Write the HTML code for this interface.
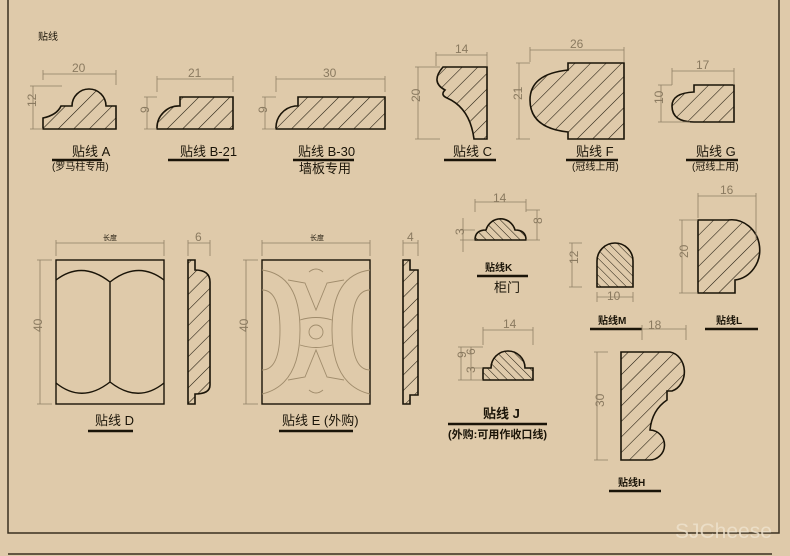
<!DOCTYPE html>
<html><head><meta charset="utf-8"><style>
html,body{margin:0;padding:0;background:#dfcaaa;}
svg{display:block}
text{font-family:"Liberation Sans","Noto Sans CJK SC",sans-serif;}
.lb{font-size:13px;fill:#1a1408;}
.sm{font-size:10px;fill:#1a1408;}
.dm{font-size:12px;fill:#8a7a60;}
.o{fill:url(#h);stroke:#1a1408;stroke-width:1.6;}
.o2{fill:url(#h2);stroke:#1a1408;stroke-width:1.6;}
.d{stroke:#8f7f66;stroke-width:0.8;fill:none;}
.ul{stroke:#1a1408;stroke-width:2.5;}
</style></head><body>
<svg width="790" height="556" viewBox="0 0 790 556">
<defs>
<pattern id="h" patternUnits="userSpaceOnUse" width="11" height="11" patternTransform="rotate(45)"><rect width="11" height="11" fill="#dfcaaa"/><line x1="0" y1="0" x2="0" y2="11" stroke="#1a1408" stroke-width="1.1"/></pattern>
<pattern id="h2" patternUnits="userSpaceOnUse" width="6" height="6" patternTransform="rotate(-45)"><rect width="6" height="6" fill="#dfcaaa"/><line x1="0" y1="0" x2="0" y2="6" stroke="#1a1408" stroke-width="1"/></pattern>
</defs>
<rect width="790" height="556" fill="#dfcaaa"/>
<path d="M8,0 V533 H779 V0" fill="none" stroke="#3a3020" stroke-width="1.5"/>
<line x1="8" y1="554" x2="772" y2="554" stroke="#3a3020" stroke-width="1.5"/>
<text x="38" y="40" class="sm">贴线</text>

<!-- A -->
<path class="o" d="M43,129 L43,118 Q57,115 61,106 L72,106 A17,17 0 0 1 106,106 L116,106 L116,129 Z"/>
<path class="d" d="M43,74 H116 M43,70 V80 M116,70 V85 M33,86 V129 M30,86 H62 M30,129 H43"/>
<text x="72" y="72" class="dm">20</text><text x="31" y="112" class="dm" transform="rotate(-90 31 107)">12</text>
<text x="72" y="156" class="lb">贴线 A</text><line class="ul" x1="52" y1="160" x2="102" y2="160"/>
<text x="52" y="170" class="sm">(罗马柱专用)</text>
<!-- B-21 -->
<path class="o" d="M157,129 A22,22 0 0 1 180,106 L180,97 L233,97 L233,129 Z"/>
<path class="d" d="M157,79 H233 M157,76 V92 M233,76 V92 M147,97 V129 M144,97 H157 M144,129 H157"/>
<text x="188" y="77" class="dm">21</text><text x="145" y="117" class="dm" transform="rotate(-90 145 113)">9</text>
<text x="180" y="156" class="lb">贴线 B-21</text><line class="ul" x1="168" y1="160" x2="229" y2="160"/>
<!-- B-30 -->
<path class="o" d="M276,129 A22,22 0 0 1 295,106 L298,106 L298,97 L385,97 L385,129 Z"/>
<path class="d" d="M276,79 H385 M276,76 V92 M385,76 V92 M265,97 V129 M262,97 H276 M262,129 H276"/>
<text x="323" y="77" class="dm">30</text><text x="263" y="117" class="dm" transform="rotate(-90 263 113)">9</text>
<text x="298" y="156" class="lb">贴线 B-30</text><line class="ul" x1="293" y1="160" x2="354" y2="160"/>
<text x="299" y="173" class="lb">墙板专用</text>
<!-- C -->
<path class="o" d="M443,67 L487,67 L487,139 L474,139 Q470,108 447,98 Q440,95 445,90 Q430,82 443,67 Z"/>
<path class="d" d="M436,55 H487 M436,52 V66 M487,52 V66 M418,67 V139 M415,67 H440 M415,139 H440"/>
<text x="455" y="53" class="dm">14</text><text x="416" y="106" class="dm" transform="rotate(-90 416 102)">20</text>
<text x="453" y="156" class="lb">贴线 C</text><line class="ul" x1="444" y1="160" x2="496" y2="160"/>
<!-- F -->
<path class="o" d="M568,63 L624,63 L624,139 L568,139 L568,132 Q530,128 530,100 Q530,74 568,70 Z"/>
<path class="d" d="M530,50 H624 M530,47 V62 M624,47 V62 M519,63 V139 M516,63 H530 M516,139 H530"/>
<text x="570" y="48" class="dm">26</text><text x="518" y="104" class="dm" transform="rotate(-90 518 100)">21</text>
<text x="576" y="156" class="lb">贴线 F</text><line class="ul" x1="566" y1="160" x2="618" y2="160"/>
<text x="572" y="170" class="sm">(冠线上用)</text>
<!-- G -->
<path class="o" d="M694,85 L734,85 L734,122 L694,122 Q672,122 672,106 Q672,93 694,92 Z"/>
<path class="d" d="M672,71 H734 M672,68 V85 M734,68 V85 M661,85 V122 M658,85 H672 M658,122 H690"/>
<text x="696" y="69" class="dm">17</text><text x="659" y="108" class="dm" transform="rotate(-90 659 104)">10</text>
<text x="696" y="156" class="lb">贴线 G</text><line class="ul" x1="686" y1="160" x2="738" y2="160"/>
<text x="692" y="170" class="sm">(冠线上用)</text>

<!-- D -->
<rect x="56" y="260" width="108" height="144" fill="none" stroke="#1a1408" stroke-width="1.4"/>
<path d="M56,280 Q82,260 110,282 Q138,260 164,280 M56,383 Q82,404 110,382 Q138,404 164,383 M110,282 V382" fill="none" stroke="#1a1408" stroke-width="1.4"/>
<path class="d" d="M56,243 H164 M56,240 V256 M164,240 V256 M40,260 V404 M37,260 H52 M37,404 H52"/>
<text x="103" y="240" class="sm" style="font-size:7px">长度</text><text x="38" y="336" class="dm" transform="rotate(-90 38 332)">40</text>
<path class="o" d="M188,260 L195,260 L195,270 Q210,270 210,282 L210,385 Q210,394 195,394 L195,404 L188,404 Z"/>
<path class="d" d="M188,243 H210 M188,240 V256 M210,240 V256"/>
<text x="195" y="241" class="dm">6</text>
<text x="95" y="425" class="lb">贴线 D</text><line class="ul" x1="88" y1="431" x2="133" y2="431"/>
<!-- E -->
<rect x="262" y="260" width="108" height="144" fill="none" stroke="#1a1408" stroke-width="1.4"/>
<g fill="none" stroke="#a08c6c" stroke-width="0.9">
<path d="M262,270 Q300,275 300,330 Q300,385 262,394 M262,290 Q280,290 280,330 Q280,370 262,370 M370,270 Q332,275 332,330 Q332,385 370,394 M370,290 Q352,290 352,330 Q352,370 370,370"/>
<path d="M288,280 L305,283 L316,310 L327,283 L344,280 M288,380 L305,377 L316,350 L327,377 L344,380 M300,320 Q316,315 332,320 M300,345 Q316,350 332,345"/>
<circle cx="316" cy="332" r="7"/>
<path d="M309,272 Q316,266 323,272 M309,390 Q316,396 323,390"/>
</g>
<path class="d" d="M262,243 H370 M262,240 V256 M370,240 V256 M246,260 V404 M243,260 H258 M243,404 H258"/>
<text x="310" y="240" class="sm" style="font-size:7px">长度</text><text x="244" y="336" class="dm" transform="rotate(-90 244 332)">40</text>
<path class="o" d="M403,260 L410,260 L410,270 L418,270 L418,395 L410,395 L410,404 L403,404 Z"/>
<path class="d" d="M403,243 H418 M403,240 V256 M418,240 V256"/>
<text x="407" y="241" class="dm">4</text>
<text x="282" y="425" class="lb">贴线 E (外购)</text><line class="ul" x1="279" y1="431" x2="353" y2="431"/>

<!-- K -->
<path class="o2" d="M475,240 Q475,230 486,230 A15,15 0 0 1 515,230 Q526,230 526,240 Z"/>
<path class="d" d="M475,202 H526 M475,199 V212 M526,199 V212 M537,210 V240 M526,210 H540 M526,240 H540 M463,218 V252 M460,230 H475 M460,240 H475"/>
<text x="493" y="202" class="dm">14</text><text x="538" y="228" class="dm" transform="rotate(-90 538 224)">8</text><text x="461" y="238" class="dm" transform="rotate(-90 461 235)">3</text>
<text x="485" y="271" class="sm" style="font-weight:bold">贴线K</text><line class="ul" x1="477" y1="276" x2="528" y2="276"/>
<text x="494" y="292" class="lb">柜门</text>
<!-- M -->
<path class="o2" d="M597,287 L597,261 A18,18 0 0 1 633,261 L633,287 Z"/>
<path class="d" d="M572,243 V287 M569,243 H582 M569,287 H582 M597,297 H633 M597,292 V302 M633,292 V302"/>
<text x="574" y="268" class="dm" transform="rotate(-90 574 264)">12</text><text x="607" y="300" class="dm">10</text>
<text x="598" y="324" class="sm" style="font-weight:bold">贴线M</text><line class="ul" x1="590" y1="329" x2="642" y2="329"/>
<!-- L -->
<path class="o" d="M698,220 L728,220 A28,30 0 0 1 735,280 L735,293 L698,293 Z"/>
<path class="d" d="M698,196 H756 M698,193 V218 M756,193 V240 M682,220 V293 M679,220 H698 M679,293 H698"/>
<text x="720" y="194" class="dm">16</text><text x="684" y="262" class="dm" transform="rotate(-90 684 258)">20</text>
<text x="716" y="324" class="sm" style="font-weight:bold">贴线L</text><line class="ul" x1="705" y1="329" x2="758" y2="329"/>
<path class="d" d="M642,329 H686 M642,325 V340 M686,325 V340"/>
<text x="648" y="329" class="dm">18</text>
<!-- J -->
<path class="o2" d="M483,380 L483,368 L491,368 A17,17 0 0 1 525,368 L533,368 L533,380 Z"/>
<path class="d" d="M483,330 H533 M483,327 V345 M533,327 V345 M471,347 V380 M461,347 V380 M458,347 H483 M468,368 H483 M458,380 H483"/>
<text x="503" y="328" class="dm">14</text><text x="462" y="362" class="dm" transform="rotate(-90 462 358)">9</text><text x="472" y="358" class="dm" transform="rotate(-90 472 355)">6</text><text x="472" y="376" class="dm" transform="rotate(-90 472 373)">3</text>
<text x="483" y="418" class="lb" style="font-weight:bold">贴线 J</text><line class="ul" x1="448" y1="424" x2="547" y2="424"/>
<text x="448" y="438" class="sm" style="font-size:11px;font-weight:bold">(外购:可用作收口线)</text>
<!-- H -->
<path class="o" d="M621,352 L670,352 A17,20 0 0 1 672,391 L667,391 L667,400 Q652,410 650,430 A15,15 0 0 1 649,460 L621,460 Z"/>
<path class="d" d="M597,352 V460 M594,352 H608 M594,460 H608"/>
<text x="599" y="412" class="dm" transform="rotate(-90 599 407)">30</text>
<text x="618" y="486" class="sm" style="font-weight:bold">贴线H</text><line class="ul" x1="609" y1="491" x2="661" y2="491"/>
<text x="675" y="538" style="font-size:21px;fill:#efe3cf;opacity:0.8">SJCheese</text>
</svg>
</body></html>
